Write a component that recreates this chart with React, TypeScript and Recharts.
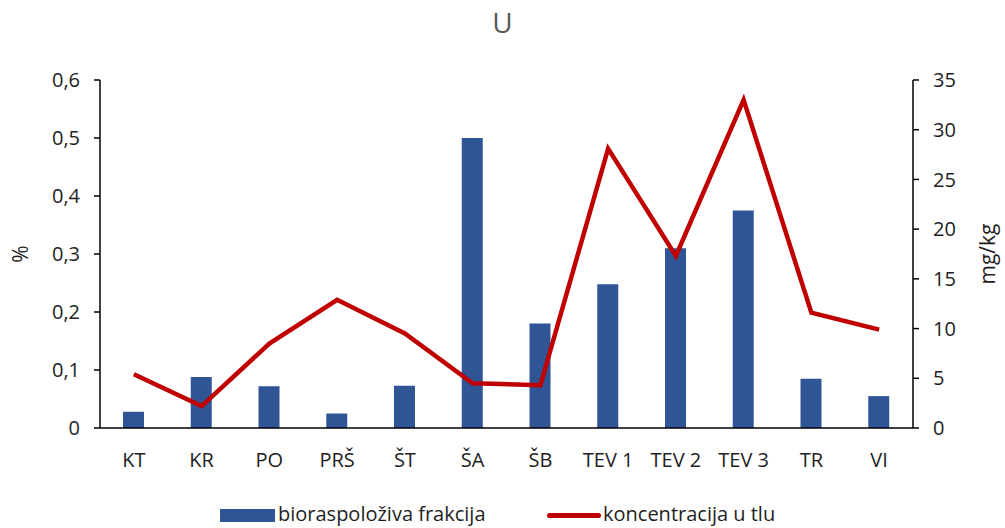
import React from "react";
import { ComposedChart, Bar, Line, XAxis, YAxis } from "recharts";

const categories = ["KT", "KR", "PO", "PRŠ", "ŠT", "ŠA", "ŠB", "TEV 1", "TEV 2", "TEV 3", "TR", "VI"];
const bioFraction = [0.028, 0.088, 0.072, 0.025, 0.073, 0.5, 0.18, 0.248, 0.31, 0.375, 0.085, 0.055];
const soilConc = [5.4, 2.2, 8.5, 12.9, 9.5, 4.5, 4.3, 28.1, 17.3, 33.0, 11.6, 9.9];
const leftTicks = [0, 0.1, 0.2, 0.3, 0.4, 0.5, 0.6];
const rightTicks = [0, 5, 10, 15, 20, 25, 30, 35];

const data = categories.map((c, i) => ({ name: c, bio: bioFraction[i], conc: soilConc[i] }));

const FONT = "'Open Sans', 'Noto Sans', sans-serif";
const TXT = "#1e1e1e";
const FS = 20;

export default function App() {
  return (
    <div style={{ position: "absolute", left: 0, top: 0, width: 1005, height: 528, background: "#fff", fontFamily: FONT }}>
      <div style={{ position: "absolute", left: 0, top: 3, width: 1005, textAlign: "center", fontSize: 28, color: "#595959" }}>U</div>
      <ComposedChart width={1005} height={528} data={data} margin={{ top: 80, right: 0, bottom: 60, left: 0 }}>
        <XAxis
          dataKey="name"
          height={40}
          tickLine={false}
          tickSize={0}
          tickMargin={25}
          axisLine={{ stroke: "#000", strokeWidth: 1.5 }}
          tick={{ fill: TXT, fontSize: FS, fontFamily: FONT }}
          interval={0}
        />
        <YAxis
          yAxisId="left"
          orientation="left"
          width={100}
          domain={[0, 0.6]}
          ticks={leftTicks}
          tickFormatter={(v: number) => String(v).replace(".", ",")}
          axisLine={{ stroke: "#000", strokeWidth: 1.5 }}
          tickLine={{ stroke: "#000", strokeWidth: 1.5 }}
          tickSize={6}
          tickMargin={14}
          tick={{ fill: TXT, fontSize: FS, fontFamily: FONT }}
          label={{
            content: (p: any) => {
              const vb = p.viewBox;
              const x = 20;
              const y = vb.y + vb.height / 2;
              return (
                <text x={x} y={y} transform={`rotate(-90 ${x} ${y})`} textAnchor="middle" dominantBaseline="central" fill={TXT} fontSize={21} fontFamily={FONT}>%</text>
              );
            },
          }}
        />
        <YAxis
          yAxisId="right"
          orientation="right"
          width={92}
          domain={[0, 35]}
          ticks={rightTicks}
          axisLine={{ stroke: "#000", strokeWidth: 1.5 }}
          tickLine={{ stroke: "#000", strokeWidth: 1.5 }}
          tickSize={6}
          tickMargin={14}
          tick={{ fill: TXT, fontSize: FS, fontFamily: FONT }}
          label={{
            content: (p: any) => {
              const vb = p.viewBox;
              const x = 987;
              const y = vb.y + vb.height / 2;
              return (
                <text x={x} y={y} transform={`rotate(-90 ${x} ${y})`} textAnchor="middle" dominantBaseline="central" fill={TXT} fontSize={21} fontFamily={FONT}>mg/kg</text>
              );
            },
          }}
        />
        <Bar yAxisId="left" dataKey="bio" fill="#2F5597" barSize={21} isAnimationActive={false} />
        <Line yAxisId="right" dataKey="conc" stroke="#C00000" strokeWidth={4.5} dot={false} type="linear" isAnimationActive={false} />
      </ComposedChart>
      <span style={{ position: "absolute", left: 220, top: 509, width: 55, height: 13, background: "#2F5597" }} />
      <span style={{ position: "absolute", left: 278, top: 500, fontSize: 20, color: TXT, whiteSpace: "nowrap", lineHeight: "28px" }}>bioraspoloživa frakcija</span>
      <span style={{ position: "absolute", left: 547, top: 513, width: 54, height: 5, borderRadius: 3, background: "#C00000" }} />
      <span style={{ position: "absolute", left: 603, top: 500, fontSize: 20, color: TXT, whiteSpace: "nowrap", lineHeight: "28px" }}>koncentracija u tlu</span>
    </div>
  );
}
